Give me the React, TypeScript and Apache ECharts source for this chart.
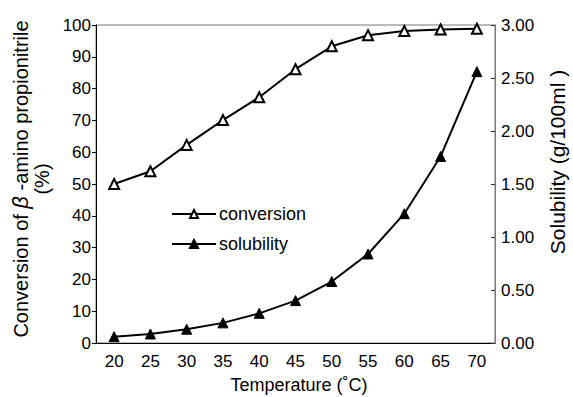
import React, { useEffect, useRef } from "react";
import * as echarts from "echarts";

const temperatures = ["20", "25", "30", "35", "40", "45", "50", "55", "60", "65", "70"];
const conversion = [50, 54, 62.3, 70.1, 77.3, 86.1, 93.3, 96.8, 98.1, 98.6, 98.8];
const solubility = [0.06, 0.085, 0.13, 0.19, 0.28, 0.4, 0.58, 0.84, 1.22, 1.76, 2.56];

const FONT = "'Liberation Sans', Arial, sans-serif";

export default function App() {
  const ref = useRef<HTMLDivElement>(null);
  useEffect(() => {
    if (!ref.current) return;
    const chart = echarts.init(ref.current, null, { renderer: "svg" });
    chart.setOption({
      animation: false,
      backgroundColor: "#fff",
      textStyle: { fontFamily: FONT, color: "#000" },
      grid: { left: 96, right: 78, top: 25, bottom: 54, show: true, borderColor: "#777", borderWidth: 1 },
      legend: {
        orient: "vertical",
        left: 171,
        top: 205,
        padding: 0,
        itemWidth: 44,
        itemHeight: 10,
        itemGap: 12,
        textStyle: { fontSize: 18, color: "#000", fontFamily: FONT, padding: [0, 0, 0, -2] },
        data: ["conversion", "solubility"],
      },
      xAxis: {
        type: "category",
        data: temperatures,
        boundaryGap: true,
        axisLine: { lineStyle: { color: "#000", width: 1 } },
        axisTick: { inside: true, length: 5, lineStyle: { color: "#000" } },
        axisLabel: { color: "#000", fontSize: 17, margin: 10, fontFamily: FONT },
        splitLine: { show: false },
      },
      yAxis: [
        {
          type: "value",
          min: 0,
          max: 100,
          interval: 10,
          position: "left",
          axisLine: { show: true, lineStyle: { color: "#000", width: 1 } },
          axisTick: { show: true, inside: false, length: 4, lineStyle: { color: "#000" } },
          axisLabel: { color: "#000", fontSize: 17, margin: 5, fontFamily: FONT },
          splitLine: { show: false },
        },
        {
          type: "value",
          min: 0,
          max: 3,
          interval: 0.5,
          position: "right",
          axisLine: { show: true, lineStyle: { color: "#777", width: 1 } },
          axisTick: { show: true, inside: true, length: 4, lineStyle: { color: "#333" } },
          axisLabel: {
            color: "#000",
            fontSize: 17,
            margin: 6,
            fontFamily: FONT,
            formatter: (v: number) => v.toFixed(2),
          },
          splitLine: { show: false },
        },
      ],
      series: [
        {
          name: "conversion",
          type: "line",
          yAxisIndex: 0,
          data: conversion,
          symbol: "triangle",
          symbolSize: 10,
          lineStyle: { color: "#000", width: 2 },
          itemStyle: { color: "#fff", borderColor: "#000", borderWidth: 2 },
        },
        {
          name: "solubility",
          type: "line",
          yAxisIndex: 1,
          data: solubility,
          symbol: "triangle",
          symbolSize: 10,
          lineStyle: { color: "#000", width: 2 },
          itemStyle: { color: "#000", borderColor: "#000", borderWidth: 1 },
        },
      ],
      graphic: [
        {
          type: "text",
          x: 31,
          y: 179,
          rotation: Math.PI / 2,
          style: {
            text: "{n|Conversion of }{b|β}{n| -amino propionitrile}\n{n|(%)}",
            align: "center",
            verticalAlign: "middle",
            fill: "#000",
            rich: {
              n: { fontSize: 20, fontFamily: FONT, lineHeight: 21, fill: "#000" },
              b: { fontSize: 22, fontFamily: FONT, fontStyle: "italic", lineHeight: 21, fill: "#000" },
            },
          },
        },
        {
          type: "text",
          x: 557,
          y: 162,
          rotation: Math.PI / 2,
          style: {
            text: "Solubility (g/100ml )",
            align: "center",
            verticalAlign: "middle",
            fontSize: 21,
            fontFamily: FONT,
            fill: "#000",
          },
        },
        {
          type: "text",
          x: 299,
          y: 385,
          style: {
            text: "Temperature (˚C)",
            align: "center",
            verticalAlign: "middle",
            fontSize: 18,
            fontFamily: FONT,
            fill: "#000",
          },
        },
      ],
    });
    return () => chart.dispose();
  }, []);
  return <div ref={ref} style={{ width: 573, height: 397, position: "absolute", left: 0, top: 0 }} />;
}
